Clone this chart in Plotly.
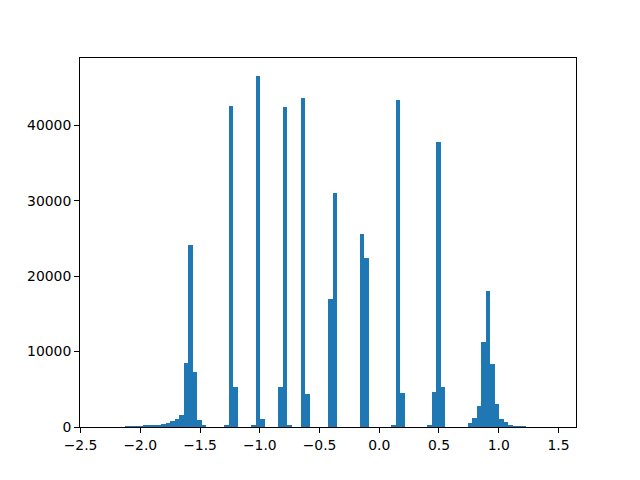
import plotly.graph_objects as go

# Histogram: 100 bins, first edge and bin width
bin_start = -2.316
bin_width = 0.03774
counts = [
    0, 0, 0, 0, 0, 130, 130, 130, 130, 260,
    260, 260, 270, 400, 530, 780, 1050, 1600, 8540, 24200,
    7250, 900, 220, 0, 0, 0, 0, 150, 42500, 5250,
    0, 0, 0, 200, 46600, 1000, 0, 0, 0, 5250,
    42400, 200, 0, 0, 43600, 4350, 0, 0, 0, 0,
    16950, 31000, 0, 0, 0, 0, 0, 25550, 22350, 0,
    0, 0, 0, 0, 150, 43300, 4450, 0, 0, 0,
    0, 0, 150, 4600, 37750, 5250, 0, 0, 0, 0,
    0, 500, 1150, 2800, 11250, 18000, 8350, 3000, 1100, 650,
    250, 120, 100, 80, 0, 0, 0, 0, 0, 0,
]
x_ticks = [-2.5, -2.0, -1.5, -1.0, -0.5, 0.0, 0.5, 1.0, 1.5]
y_ticks = [0, 10000, 20000, 30000, 40000]

centers = [bin_start + (i + 0.5) * bin_width for i in range(len(counts))]
data_lo = bin_start
data_hi = bin_start + len(counts) * bin_width
span = data_hi - data_lo

fig = go.Figure(go.Bar(
    x=centers, y=counts, width=[bin_width] * len(counts),
    marker=dict(color="#1f77b4", line=dict(width=0)),
))

font = dict(family="DejaVu Sans", size=13.9, color="black")
axis_common = dict(
    showgrid=False, zeroline=False, showline=True, linecolor="black",
    linewidth=1.1, mirror=True, ticks="outside", ticklen=4.9, tickwidth=1.1,
    tickcolor="black", tickfont=font,
)
fig.update_layout(
    width=640, height=480,
    margin=dict(l=72, r=72, t=50, b=61),
    paper_bgcolor="white", plot_bgcolor="white",
    bargap=0, showlegend=False,
    xaxis=dict(range=[data_lo - 0.05 * span, data_hi + 0.05 * span],
               tickvals=x_ticks, ticktext=[f"{v:.1f}".replace("-", "\u2212") for v in x_ticks],
               **axis_common),
    yaxis=dict(range=[0, max(counts) * 1.05], tickvals=y_ticks,
               ticktext=[str(v) for v in y_ticks], **axis_common),
)
fig.write_html("out.html")
